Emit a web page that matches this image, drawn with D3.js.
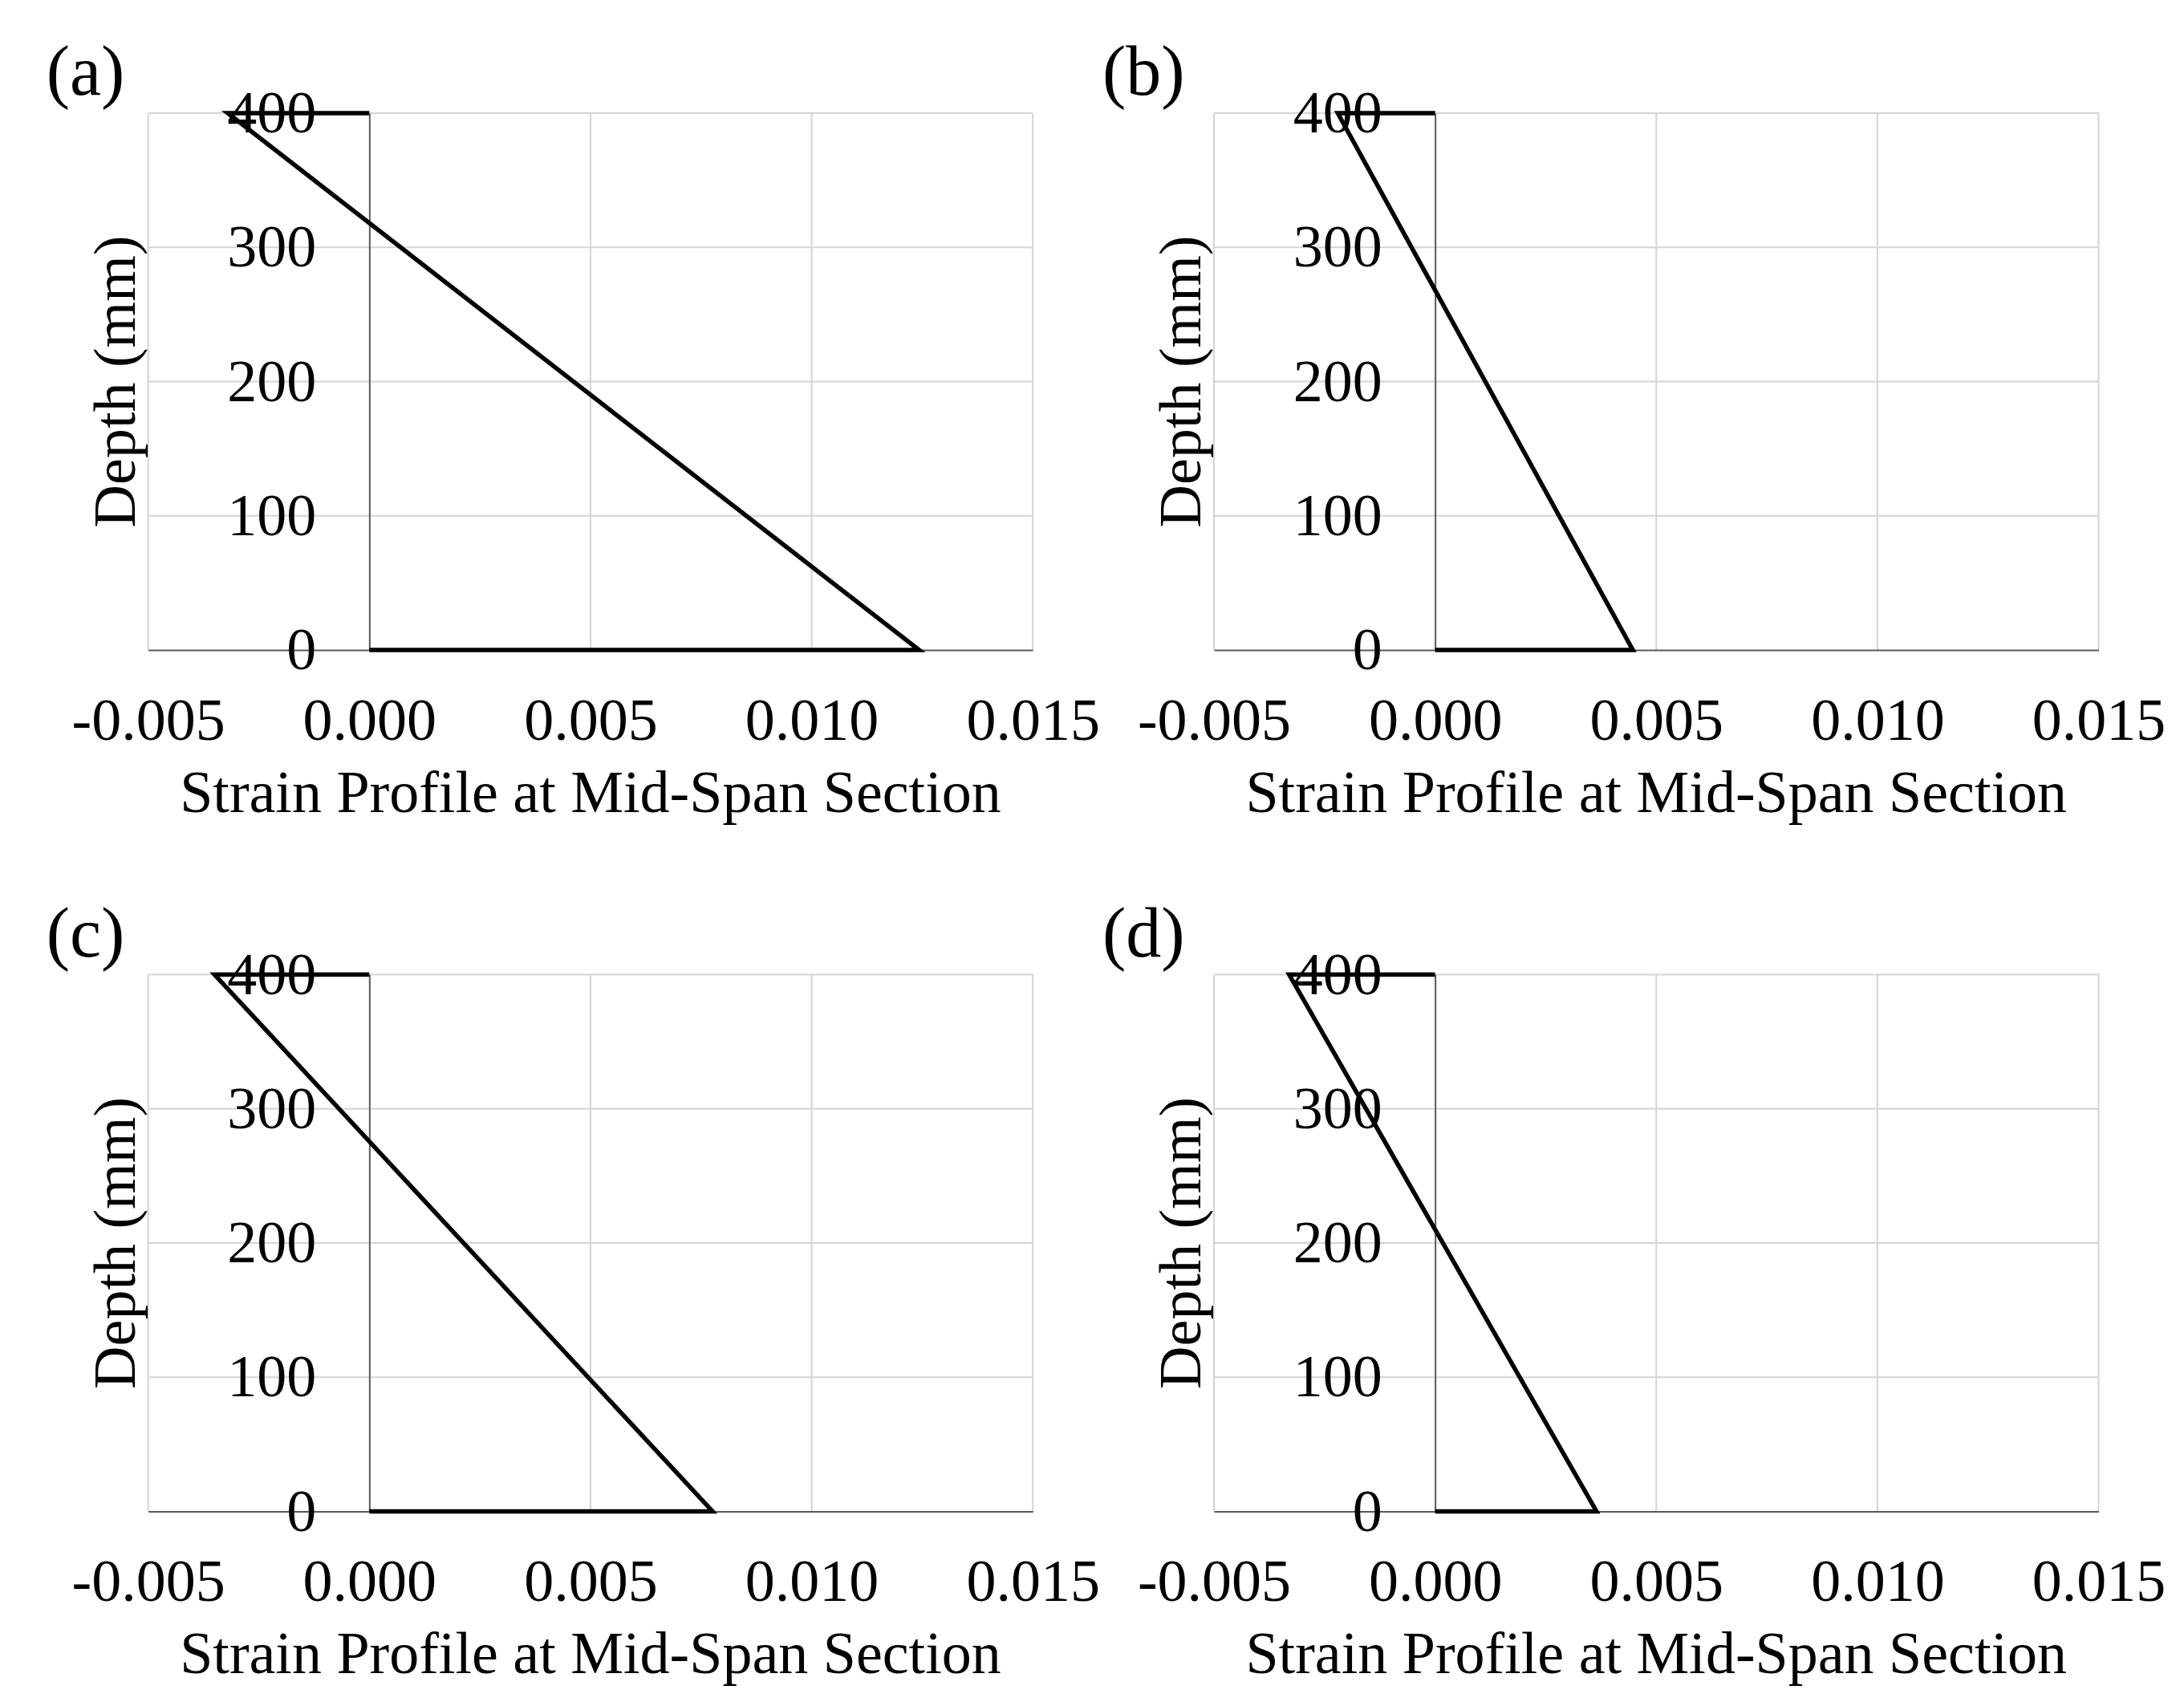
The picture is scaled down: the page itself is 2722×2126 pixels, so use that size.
<!DOCTYPE html>
<html lang="en">
<head>
    <meta charset="UTF-8">
    <title>Strain Profile at Mid-Span Section</title>
    <script src="https://d3js.org/d3.v7.min.js"></script>
    <style>
        body {
            margin: 0;
            background-color: #ffffff;
        }
        text {
            font-family: 'Liberation Serif', 'Times New Roman', serif;
            fill: #000;
        }
    </style>
</head>
<body>
    <script>
        // Data
        const panelLabels = ["(a)", "(b)", "(c)", "(d)"];
        const depthPoints = [400, 400, 0, 0];
        const strainA = [0, -0.0032, 0.01243, 0];
        const strainB = [0, -0.0022, 0.00447, 0];
        const strainC = [0, -0.0035, 0.00776, 0];
        const strainD = [0, -0.0033, 0.00365, 0];
        const strainSeries = [strainA, strainB, strainC, strainD];
        const xTicks = [-0.005, 0.000, 0.005, 0.010, 0.015];
        const yTicks = [0, 100, 200, 300, 400];
        const xTitle = "Strain Profile at Mid-Span Section";
        const yTitle = "Depth (mm)";

        // Canvas and panel geometry
        const W = 2722, H = 2126;
        const plotW = 1102.5, plotH = 669;
        const lefts = [184.7, 1513], tops = [141, 1214.5];
        const labelOffsets = [-127, -139];

        const fmt = d3.formatLocale({decimal: ".", thousands: ",", grouping: [3], currency: ["", ""], minus: "-"}).format(".3f");

        const svg = d3.select("body").append("svg")
            .attr("width", W)
            .attr("height", H)
            .style("background-color", "#fff");

        const x = d3.scaleLinear().domain([-0.005, 0.015]).range([0, plotW]);
        const y = d3.scaleLinear().domain([0, 400]).range([plotH, 0]);

        strainSeries.forEach(function(series, i) {
            const g = svg.append("g")
                .attr("transform", `translate(${lefts[i % 2]},${tops[Math.floor(i / 2)]})`);

            // gridlines
            g.selectAll(".vgrid")
                .data(xTicks.filter(function(d) { return d !== 0; }))
                .enter().append("line")
                .attr("x1", function(d) { return x(d); })
                .attr("x2", function(d) { return x(d); })
                .attr("y1", y(0))
                .attr("y2", y(400))
                .attr("stroke", "#d4d4d4")
                .attr("stroke-width", 2);

            g.selectAll(".hgrid")
                .data(yTicks.filter(function(d) { return d !== 0; }))
                .enter().append("line")
                .attr("x1", x(-0.005))
                .attr("x2", x(0.015))
                .attr("y1", function(d) { return y(d); })
                .attr("y2", function(d) { return y(d); })
                .attr("stroke", "#d4d4d4")
                .attr("stroke-width", 2);

            // x axis (line at depth 0)
            const xAxis = g.append("g")
                .attr("transform", `translate(0,${y(0)})`)
                .call(d3.axisBottom(x).tickValues(xTicks).tickSize(0).tickFormat(fmt));
            xAxis.select(".domain").attr("stroke", "#595959").attr("stroke-width", 2);
            xAxis.selectAll("text")
                .attr("y", 111.7)
                .attr("dy", null)
                .style("font-size", "74px")
                .style("font-family", "'Liberation Serif', 'Times New Roman', serif");

            // y axis (crosses at strain 0)
            const yAxis = g.append("g")
                .attr("transform", `translate(${x(0)},0)`)
                .call(d3.axisLeft(y).tickValues(yTicks).tickSize(0).tickPadding(66));
            yAxis.select(".domain").attr("stroke", "#595959").attr("stroke-width", 2);
            yAxis.selectAll("text")
                .style("font-size", "74px")
                .style("font-family", "'Liberation Serif', 'Times New Roman', serif");

            // strain profile
            const line = d3.line()
                .x(function(d) { return x(d[0]); })
                .y(function(d) { return y(d[1]); });

            g.append("path")
                .datum(d3.zip(series, depthPoints))
                .attr("d", line)
                .attr("fill", "none")
                .attr("stroke", "#000")
                .attr("stroke-width", 5.5)
                .attr("stroke-linejoin", "miter");

            // axis titles
            g.append("text")
                .attr("x", plotW / 2)
                .attr("y", plotH + 201.7)
                .attr("text-anchor", "middle")
                .style("font-size", "74px")
                .text(xTitle);

            g.append("text")
                .attr("transform", `translate(-41.7,${plotH / 2}) rotate(-90)`)
                .attr("text-anchor", "middle")
                .attr("dominant-baseline", "central")
                .style("font-size", "74px")
                .text(yTitle);

            // panel label
            g.append("text")
                .attr("x", labelOffsets[i % 2])
                .attr("y", -23)
                .style("font-size", "88px")
                .text(panelLabels[i]);
        });
    </script>
</body>
</html>
